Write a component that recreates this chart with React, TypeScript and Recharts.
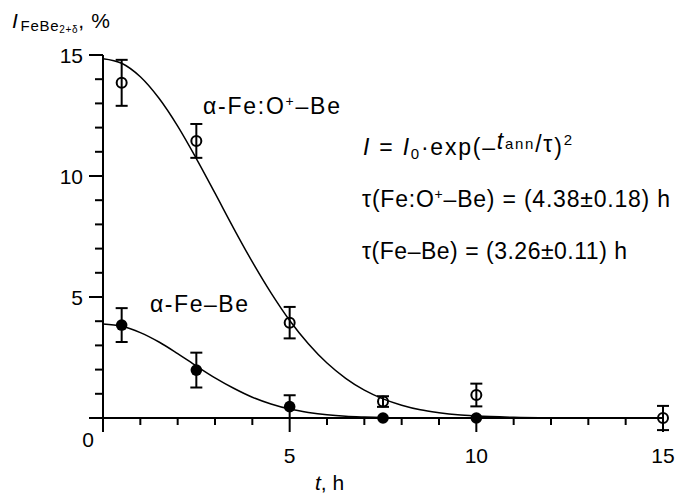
import React from 'react'
import { ComposedChart, Line, Scatter, XAxis, YAxis, ErrorBar } from 'recharts'

// fitted curves I = I0·exp(-(t/τ)^2)
const curveTime = [0, 0.5, 1, 1.5, 2, 2.5, 3, 3.5, 4, 4.5, 5, 5.5, 6, 6.5, 7, 7.5, 8, 8.5, 9, 9.5, 10, 11, 12]
const curveOxygen = [14.85, 14.66, 14.1, 13.21, 12.06, 10.72, 9.29, 7.84, 6.45, 5.17, 4.03, 3.07, 2.27, 1.64, 1.15, 0.79, 0.53, 0.34, 0.22, 0.13, 0.08, 0.03, 0.01]
const curvePure = [3.88, 3.79, 3.53, 3.14, 2.66, 2.15, 1.66, 1.23, 0.86, 0.58, 0.37, 0.23, 0.13, 0.07, 0.04, 0.02, 0.01, 0, 0, 0, 0, 0, 0]

// α-Fe:O+–Be (open circles)
const timeOxygen = [0.5, 2.5, 5, 7.5, 10, 15]
const valueOxygen = [13.85, 11.45, 3.94, 0.68, 0.95, 0]
const errOxygen = [0.95, 0.7, 0.65, 0.22, 0.47, 0.5]

// α-Fe–Be (filled circles)
const timePure = [0.5, 2.5, 5, 7.5, 10]
const valuePure = [3.84, 1.98, 0.47, 0, 0]
const errPure = [0.7, 0.72, 0.47, 0, 0]

const xTicks = [0, 1, 2, 3, 4, 5, 6, 7, 8, 9, 10, 11, 12, 13, 14, 15]
const yTicks = [0, 1, 2, 3, 4, 5, 6, 7, 8, 9, 10, 11, 12, 13, 14, 15]
const majorTicks = [0, 5, 10, 15]

const FONT = '"Liberation Sans", Arial, sans-serif'

const oxygenCurve = curveTime.map((t, i) => ({ t, v: curveOxygen[i] }))
const pureCurve = curveTime.map((t, i) => ({ t, v: curvePure[i] }))
const oxygenPoints = timeOxygen.map((t, i) => ({ t, v: valueOxygen[i], e: errOxygen[i] }))
const purePoints = timePure.map((t, i) => ({ t, v: valuePure[i], e: errPure[i] }))

/* eslint-disable @typescript-eslint/no-explicit-any */
function XTick({ x, y, payload }: any) {
  const major = majorTicks.includes(payload.value)
  return (
    <g>
      <line x1={x} y1={y} x2={x} y2={y + (major ? 14 : 7)} stroke="#000" strokeWidth={2} />
      {major && payload.value !== 0 && (
        <text x={x} y={y + 45} textAnchor="middle" fontSize={21} fontFamily={FONT} fill="#000">
          {payload.value}
        </text>
      )}
    </g>
  )
}

function YTick({ x, y, payload }: any) {
  const major = majorTicks.includes(payload.value)
  return (
    <g>
      <line x1={x - (major ? 14 : 8)} y1={y} x2={x} y2={y} stroke="#000" strokeWidth={2} />
      {major && payload.value !== 0 && (
        <text x={x - 20} y={y + 7.5} textAnchor="end" fontSize={21} fontFamily={FONT} fill="#000">
          {payload.value}
        </text>
      )}
      {payload.value === 0 && (
        <text x={x - 15} y={y + 29} textAnchor="middle" fontSize={21} fontFamily={FONT} fill="#000">0</text>
      )}
    </g>
  )
}

function OpenDot({ cx, cy }: any) {
  return <circle cx={cx} cy={cy} r={5} fill="none" stroke="#000" strokeWidth={2} />
}

function FilledDot({ cx, cy }: any) {
  return <circle cx={cx} cy={cy} r={5.8} fill="#000" />
}
/* eslint-enable @typescript-eslint/no-explicit-any */

export default function App() {
  return (
    <div style={{ position: 'relative', width: 677, height: 497, background: '#fff', fontFamily: FONT }}>
      <style>{'body{margin:0} .recharts-wrapper [clip-path]{clip-path:none}'}</style>
      <ComposedChart width={677} height={497} margin={{ top: 55, right: 14, bottom: 0, left: 0 }}>
        <XAxis
          dataKey="t" type="number" domain={[0, 15]} ticks={xTicks} interval={0}
          height={79} tickLine={false} tickSize={0} tickMargin={0}
          axisLine={{ stroke: '#000', strokeWidth: 2 }} tick={(p) => <XTick {...p} />}
        />
        <YAxis
          dataKey="v" type="number" domain={[0, 15]} allowDataOverflow ticks={yTicks} interval={0}
          width={103} tickLine={false} tickSize={0} tickMargin={0}
          axisLine={{ stroke: '#000', strokeWidth: 2 }} tick={(p) => <YTick {...p} />}
        />
        <Line data={oxygenCurve} dataKey="v" type="monotone" stroke="#000" strokeWidth={1.5} dot={false} isAnimationActive={false} />
        <Line data={pureCurve} dataKey="v" type="monotone" stroke="#000" strokeWidth={1.5} dot={false} isAnimationActive={false} />
        <Scatter data={oxygenPoints} dataKey="v" shape={(p: unknown) => <OpenDot {...(p as object)} />} isAnimationActive={false}>
          <ErrorBar dataKey="e" direction="y" width={6} stroke="#000" strokeWidth={2} isAnimationActive={false} />
        </Scatter>
        <Scatter data={purePoints} dataKey="v" shape={(p: unknown) => <FilledDot {...(p as object)} />} isAnimationActive={false}>
          <ErrorBar dataKey="e" direction="y" width={6} stroke="#000" strokeWidth={2} isAnimationActive={false} />
        </Scatter>
      </ComposedChart>

      <svg width={677} height={497} style={{ position: 'absolute', left: 0, top: 0, pointerEvents: 'none' }} fontFamily={FONT} fill="#000">
        {/* y-axis title */}
        <text x={12} y={28} fontSize={21} textLength={98}>
          <tspan fontStyle="italic">I</tspan>
          <tspan fontSize={15} dy={3} dx={2}>FeBe</tspan>
          <tspan fontSize={10} dy={2}>2+δ</tspan>
          <tspan dy={-5}>, %</tspan>
        </text>
        {/* x-axis title */}
        <text x={315} y={490} fontSize={21}>
          <tspan fontStyle="italic">t</tspan>, h
        </text>

        <text x={203} y={114} fontSize={23} textLength={137}>
          α-Fe:O<tspan fontSize={14} dy={-8}>+</tspan><tspan dy={8}>–Be</tspan>
        </text>
        <text x={150} y={312} fontSize={23} textLength={98}>α-Fe–Be</text>

        <text x={363} y={155} fontSize={23} textLength={209}>
          <tspan fontStyle="italic">I</tspan> = <tspan fontStyle="italic">I</tspan>
          <tspan fontSize={15} dy={4}>0</tspan>
          <tspan dy={-4}>·exp(–</tspan>
          <tspan fontStyle="italic" dy={-6}>t</tspan>
          <tspan fontSize={15}>ann</tspan>
          <tspan dy={3}>/τ</tspan>
          <tspan dy={3}>)</tspan>
          <tspan fontSize={15} dy={-10}>2</tspan>
        </text>
        <text x={362} y={207} fontSize={23} textLength={308}>
          τ(Fe:O<tspan fontSize={14} dy={-8}>+</tspan><tspan dy={8}>–Be) = (4.38±0.18) h</tspan>
        </text>
        <text x={362} y={259} fontSize={23} textLength={265}>τ(Fe–Be) = (3.26±0.11) h</text>
      </svg>
    </div>
  )
}
